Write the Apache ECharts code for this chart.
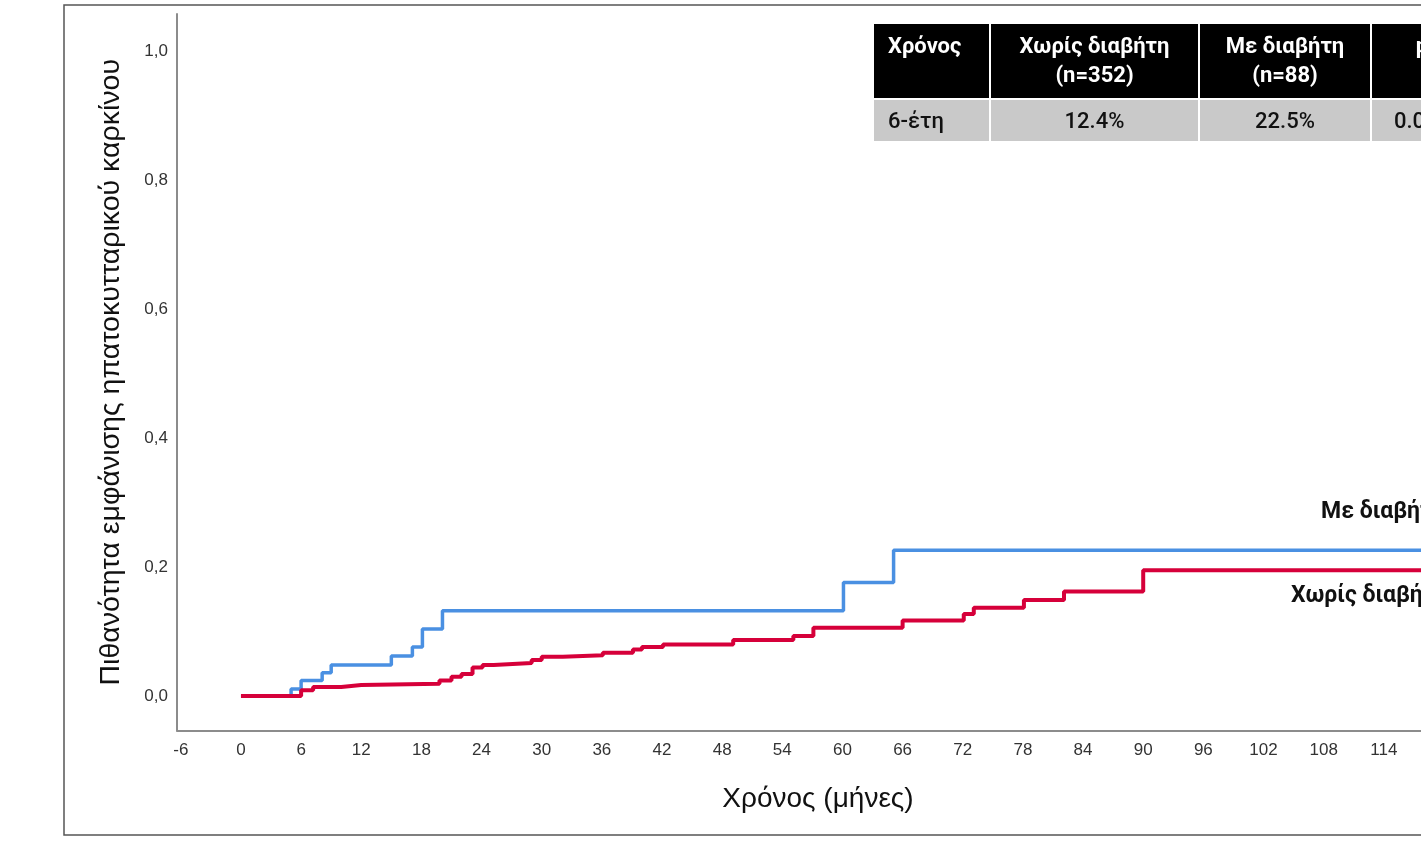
<!DOCTYPE html>
<html>
<head>
<meta charset="utf-8">
<script src="https://cdn.jsdelivr.net/npm/echarts@6/dist/echarts.min.js"></script>
<style>
html,body{margin:0;padding:0;overflow:hidden;background:#fff;width:1421px;height:844px;}
#chart{width:1700px;height:844px;}
</style>
</head>
<body>
<div id="chart"></div>
<script>
// Group without diabetes (Χωρίς διαβήτη, n=352) – Kaplan-Meier cumulative incidence
const redTimes = [0, 6.0, 7.2, 10.0, 12.0, 19.8, 21.0, 22.0, 23.1, 24.1, 25.2, 29.0, 30.0, 32.1, 36.1, 39.1, 40.0, 42.1, 49.1, 55.1, 57.1, 66.0, 72.1, 73.1, 78.1, 82.1, 90.0, 121];
const redProb  = [0, 0.009, 0.014, 0.017, 0.019, 0.024, 0.030, 0.034, 0.044, 0.048, 0.051, 0.056, 0.061, 0.063, 0.067, 0.072, 0.076, 0.080, 0.087, 0.093, 0.106, 0.117, 0.127, 0.137, 0.149, 0.162, 0.195, 0.195];
// Group with diabetes (Με διαβήτη, n=88)
const blueTimes = [0, 5.0, 6.0, 8.1, 9.0, 15.0, 17.1, 18.1, 20.1, 60.1, 65.1, 121];
const blueProb  = [0, 0.011, 0.024, 0.036, 0.048, 0.062, 0.076, 0.104, 0.132, 0.176, 0.226, 0.226];

const xTicks = [-6,0,6,12,18,24,30,36,42,48,54,60,66,72,78,84,90,96,102,108,114,120];
const yTicks = [0,0.2,0.4,0.6,0.8,1.0];

const tableHeader = ['Χρόνος', 'Χωρίς διαβήτη', 'Με διαβήτη', 'p'];
const tableHeader2 = ['', '(n=352)', '(n=88)', ''];
const tableRow = ['6-έτη', '12.4%', '22.5%', '0.021'];

const seriesNames = ['Με διαβήτη', 'Χωρίς διαβήτη'];

const toPairs = (t, p) => t.map((v, i) => [v, p[i]]);

const chart = echarts.init(document.getElementById('chart'), null, {renderer: 'canvas'});

const colX = [874, 991, 1200, 1372];
const colW = [115, 207, 170, 100];
const tf = 'Roboto';
const graphics = [];
graphics.push({type:'rect', z:-10, silent:true, shape:{x:64, y:5, width:1700, height:830}, style:{fill:'none', stroke:'#555', lineWidth:1.5}});
for (let i = 0; i < 4; i++) {
  graphics.push({type:'rect', z:10, shape:{x:colX[i], y:24, width:colW[i], height:74}, style:{fill:'#000'}});
  graphics.push({type:'rect', z:10, shape:{x:colX[i], y:100, width:colW[i], height:41}, style:{fill:'#c9c9c9'}});
  const cx = i === 0 ? colX[i] + 14 : colX[i] + colW[i] / 2;
  const al = i === 0 ? 'left' : 'center';
  graphics.push({type:'text', z:11, style:{text:tableHeader[i], x:cx, y:47, align:al, verticalAlign:'middle', fill:'#fff', font:'bold 22px ' + tf}});
  if (tableHeader2[i]) graphics.push({type:'text', z:11, style:{text:tableHeader2[i], x:cx, y:76, align:al, verticalAlign:'middle', fill:'#fff', font:'bold 22px ' + tf}});
  graphics.push({type:'text', z:11, style:{text:tableRow[i], x:cx, y:122, align:al, verticalAlign:'middle', fill:'#111', font:'500 22px ' + tf}});
}
graphics.push({type:'text', z:11, style:{text:seriesNames[0], x:1321, y:512, align:'left', verticalAlign:'middle', fill:'#111', font:'bold 23px ' + tf}});
graphics.push({type:'text', z:11, style:{text:seriesNames[1], x:1291, y:596, align:'left', verticalAlign:'middle', fill:'#111', font:'bold 23px ' + tf}});

const option = {
  animation: false,
  backgroundColor: '#fff',
  grid: {left: 177, top: 14, width: 1282, height: 716.5, containLabel: false},
  xAxis: {
    type: 'value', min: -6.38, max: 121.5,
    name: 'Χρόνος (μήνες)', nameLocation: 'middle', nameGap: 55,
    nameTextStyle: {fontFamily: 'Liberation Sans', fontSize: 28, color: '#111'},
    axisLine: {show: true, onZero: false, lineStyle: {color: '#8c8c8c', width: 2}},
    axisTick: {show: false},
    splitLine: {show: false},
    axisLabel: {customValues: xTicks, margin: 11, fontFamily: 'Liberation Sans', fontSize: 17, color: '#333'}
  },
  yAxis: {
    type: 'value', min: -0.0535, max: 1.0574,
    name: 'Πιθανότητα εμφάνισης ηπατοκυτταρικού καρκίνου', nameLocation: 'middle', nameGap: 51,
    nameTextStyle: {fontFamily: 'Liberation Sans', fontSize: 28.5, color: '#111'},
    axisLine: {show: true, onZero: false, lineStyle: {color: '#8c8c8c', width: 2}},
    axisTick: {show: false},
    splitLine: {show: false},
    axisLabel: {customValues: yTicks, margin: 9, fontFamily: 'Liberation Sans', fontSize: 17, color: '#333',
      formatter: v => v.toFixed(1).replace('.', ',')}
  },
  graphic: graphics,
  series: [
    {name: seriesNames[0], type: 'line', step: 'end', data: toPairs(blueTimes, blueProb), showSymbol: false, symbol: 'none',
     lineStyle: {color: '#4a90e2', width: 3.5}, z: 2},
    {name: seriesNames[1], type: 'line', step: 'end', data: toPairs(redTimes, redProb), showSymbol: false, symbol: 'none',
     lineStyle: {color: '#d6003a', width: 4}, z: 3}
  ]
};
chart.setOption(option);
</script>
</body>
</html>
